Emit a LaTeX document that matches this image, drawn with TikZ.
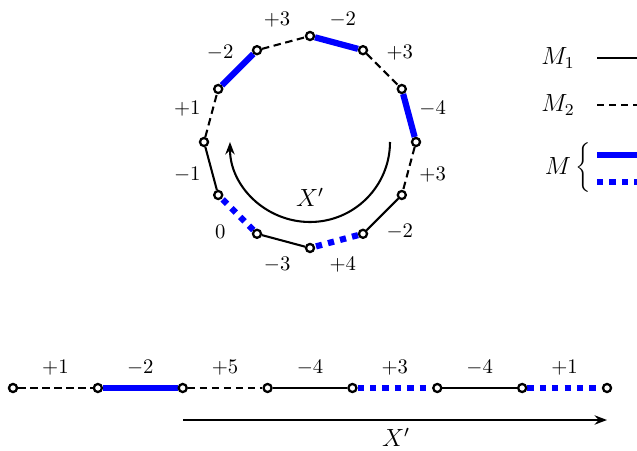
\documentclass[tikz,border=0pt]{standalone}
\usetikzlibrary{arrows.meta,backgrounds}
\begin{document}
\begin{tikzpicture}[x=0.4831pt,y=0.4831pt,
  vtx/.style={circle,draw,fill=white,line width=1.1pt,inner sep=0pt,minimum size=3.9pt},
  mone/.style={line width=1pt},
  mtwo/.style={line width=1pt,dash pattern=on 3.6pt off 2.2pt},
  mb/.style={blue,line width=3pt},
  mbd/.style={blue,line width=3pt,dash pattern=on 3pt off 3pt},
  lbl/.style={font=\normalsize,inner sep=0pt},
  leg/.style={font=\large,inner sep=0pt},
  big/.style={font=\large,inner sep=0pt}]
\useasboundingbox (0,0) rectangle (637,450);
% ---- circular arrangement ----
\begin{scope}[shift={(310,308)}]
  \foreach \k in {0,...,11}{
    \node[vtx] (v\k) at ({90-30*\k}:106) {};
  }
  \begin{pgfonlayer}{background}
  \foreach \st [count=\k from 0] in
     {mb, mtwo, mb, mtwo, mone, mbd, mone, mbd, mone, mtwo, mb, mtwo}{
    \pgfmathtruncatemacro\nx{mod(\k+1,12)}
    \draw[\st] (v\k) -- (v\nx);
  }
  \end{pgfonlayer}
  \foreach \lab [count=\k from 0] in {-2,+3,-4,+3,-2,+4,-3,0,-1,+1,-2,+3}{
    \node[lbl] (l\k) at ({75-30*\k}:127) {$\lab$};
  }
  \coordinate (as) at (80,0);
  \draw[mone,-{Stealth[length=6pt,width=4.5pt]}] (as) arc[start angle=0,end angle=-180,radius=38.65pt];
  \node[big] (xc) at (0,-55) {$X'$};
\end{scope}
% ---- legend ----
\node[leg] (lm1) at (558,392) {$M_1$};
\node[leg] (lm2) at (558,345) {$M_2$};
\node[leg] (lm) at (569,282) {$M\left\{\vrule height 14pt depth 9pt width 0pt\right.$};
\coordinate (a1) at (597,392); \coordinate (b1) at (637,392);
\coordinate (a2) at (597,345); \coordinate (b2) at (637,345);
\coordinate (a3) at (597,295); \coordinate (b3) at (637,295);
\coordinate (a4) at (597,268); \coordinate (b4) at (637,268);
\draw[mone] (a1) -- (b1);
\draw[mtwo] (a2) -- (b2);
\draw[mb] (a3) -- (b3);
\draw[mbd] (a4) -- (b4);
% ---- linear arrangement ----
\foreach \i in {0,...,7}{
  \node[vtx] (b\i) at ({13+84.86*\i},62) {};
}
\begin{pgfonlayer}{background}
\foreach \st [count=\i from 0] in {mtwo, mb, mtwo, mone, mbd, mone, mbd}{
  \pgfmathtruncatemacro\nx{\i+1}
  \draw[\st] (b\i) -- (b\nx);
}
\end{pgfonlayer}
\foreach \lab [count=\i from 0] in {+1,-2,+5,-4,+3,-4,+1}{
  \node[lbl] (t\i) at ({55.4+84.86*\i},82) {$\lab$};
}
\coordinate (xa) at (183,30);
\coordinate (xb) at (607,30);
\draw[mone,-{Stealth[length=6pt,width=4.5pt]}] (xa) -- (xb);
\node[big] (xl) at (396,13) {$X'$};
\end{tikzpicture}
\end{document}
